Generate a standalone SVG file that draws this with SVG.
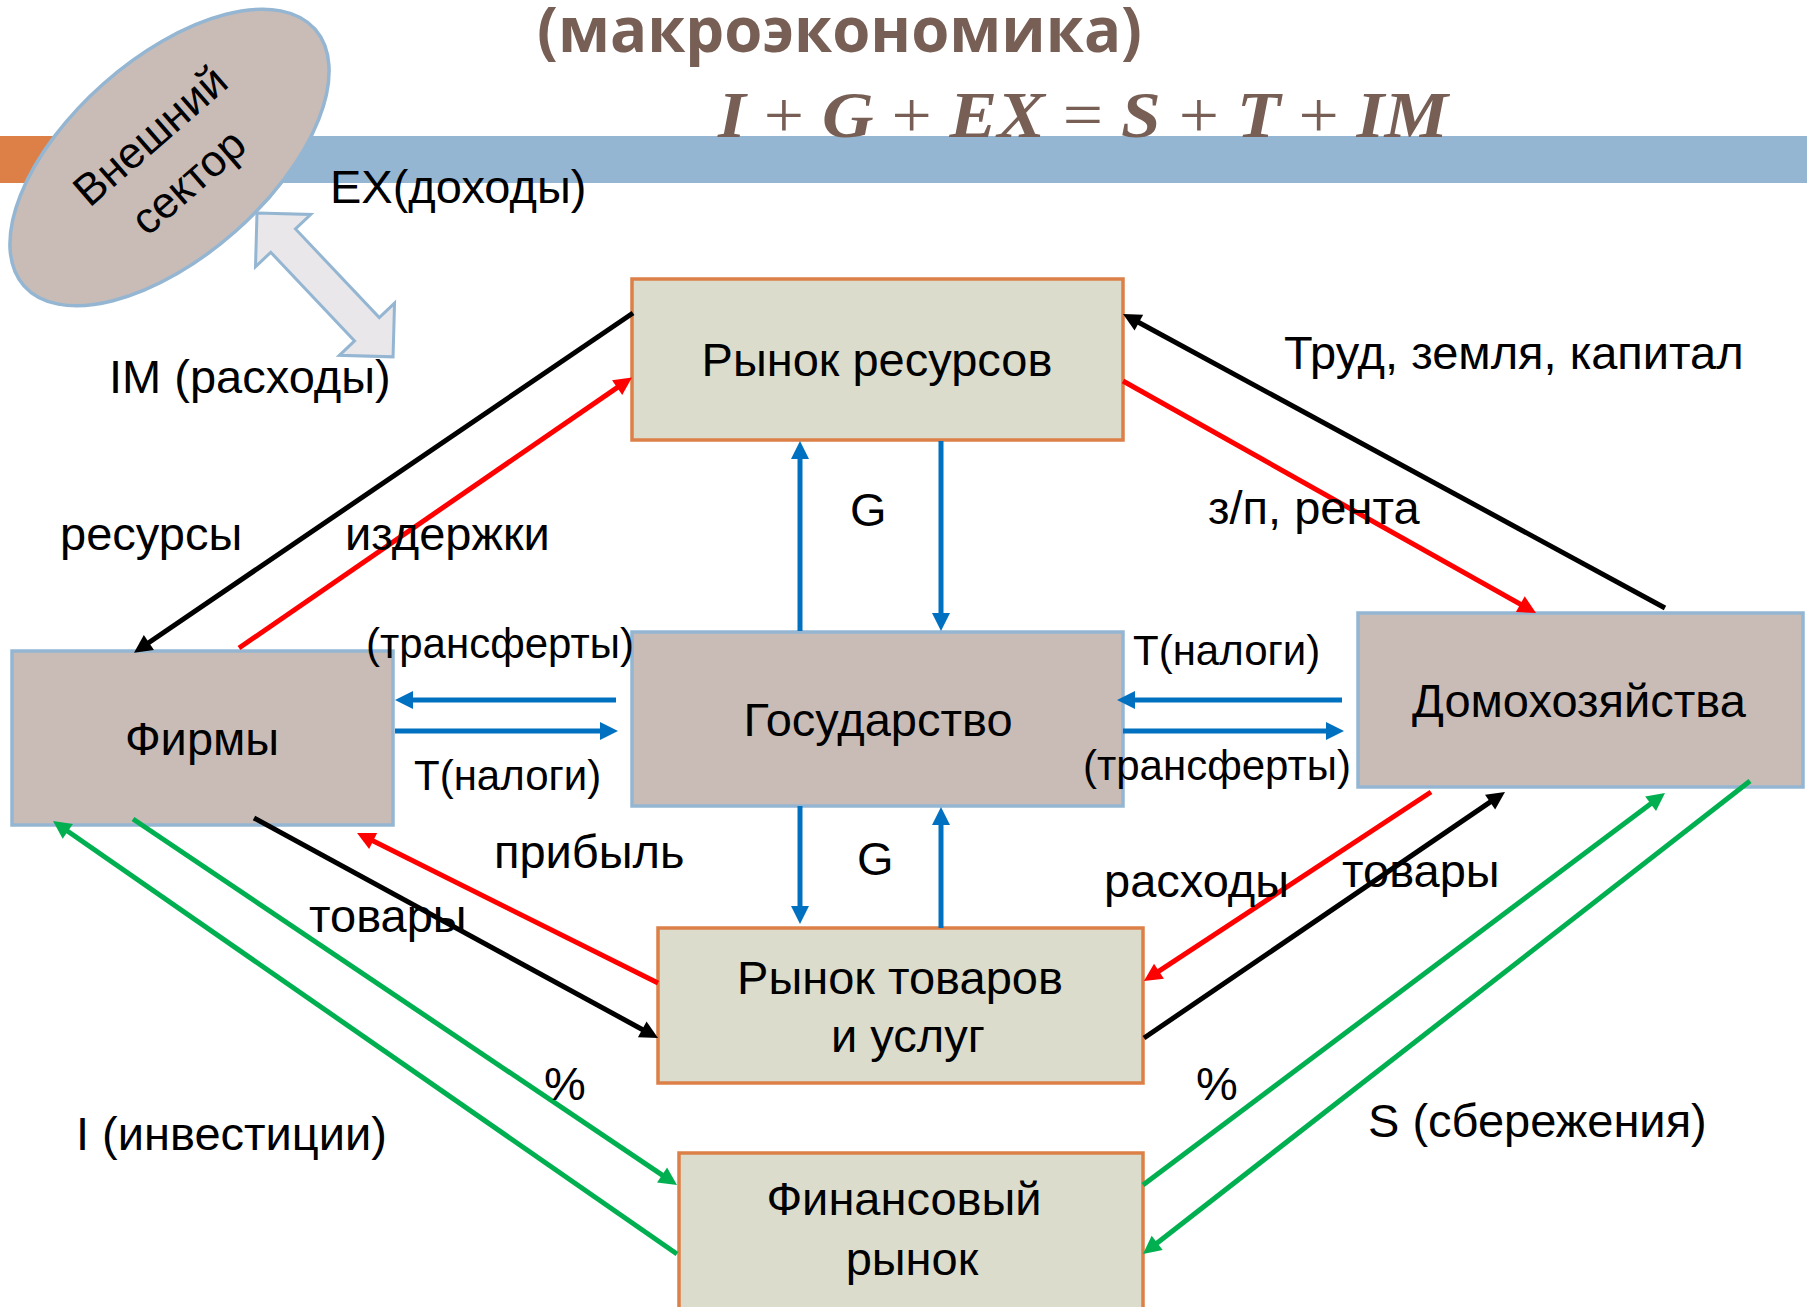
<svg xmlns="http://www.w3.org/2000/svg" width="1807" height="1307" viewBox="0 0 1807 1307">
  <style>
    .lbl { font-family: "Liberation Sans", Arial, sans-serif; font-size: 47px; fill: #000; }
    .sm { font-size: 42px; }
    .node-text { font-family: "Liberation Sans", Arial, sans-serif; font-size: 47px; fill: #000; text-anchor: middle; }
    .ext-text { font-size: 44px; }
    .market { fill: #dbdccc; stroke: #dd8047; stroke-width: 3.5; }
    .agent { fill: #c9bcb7; stroke: #94b6d2; stroke-width: 3.5; }
    .ln { fill: none; stroke-width: 5; }
    .k { stroke: #000; }
    .r { stroke: #ff0000; }
    .b { stroke: #0070c0; }
    .g { stroke: #00b050; }
  </style>
  <defs>
    <marker id="ak" markerWidth="3.6" markerHeight="3.6" refX="2.2" refY="1.8" orient="auto" markerUnits="strokeWidth" overflow="visible">
      <path d="M0,0 L3.6,1.8 L0,3.6 z" fill="#000"/>
    </marker>
    <marker id="ar" markerWidth="3.6" markerHeight="3.6" refX="2.2" refY="1.8" orient="auto" markerUnits="strokeWidth" overflow="visible">
      <path d="M0,0 L3.6,1.8 L0,3.6 z" fill="#ff0000"/>
    </marker>
    <marker id="ab" markerWidth="3.6" markerHeight="3.6" refX="2.2" refY="1.8" orient="auto" markerUnits="strokeWidth" overflow="visible">
      <path d="M0,0 L3.6,1.8 L0,3.6 z" fill="#0070c0"/>
    </marker>
    <marker id="ag" markerWidth="3.6" markerHeight="3.6" refX="2.2" refY="1.8" orient="auto" markerUnits="strokeWidth" overflow="visible">
      <path d="M0,0 L3.6,1.8 L0,3.6 z" fill="#00b050"/>
    </marker>
  </defs>

  <!-- header band -->
  <rect x="0" y="136" width="110" height="47" fill="#dd8047"/>
  <rect x="110" y="136" width="1697" height="47" fill="#94b6d2"/>

  <text x="537" y="52" textLength="605" lengthAdjust="spacingAndGlyphs" font-family="'Open Sans', 'Liberation Sans', sans-serif" font-weight="bold" font-size="62" fill="#775f55">(макроэкономика)</text>
  <text x="718" y="137" textLength="730" lengthAdjust="spacingAndGlyphs" font-family="'Liberation Serif', serif" font-size="66" fill="#775f55"><tspan font-weight="bold" font-style="italic">I</tspan> + <tspan font-weight="bold" font-style="italic">G</tspan> + <tspan font-weight="bold" font-style="italic">EX</tspan> = <tspan font-weight="bold" font-style="italic">S</tspan> + <tspan font-weight="bold" font-style="italic">T</tspan> + <tspan font-weight="bold" font-style="italic">IM</tspan></text>

  <!-- external sector -->
  <g id="n-external">
    <ellipse cx="169.5" cy="157.5" rx="194" ry="99" transform="rotate(-41.4 169.5 157.5)" class="agent"/>
    <text class="node-text ext-text" transform="translate(160 147) rotate(-41)">Внешний</text>
    <text class="node-text ext-text" transform="translate(198 193) rotate(-41)">сектор</text>
  </g>

  <!-- nodes -->
  <g id="n-resource-market">
    <rect x="632" y="279" width="491" height="161" class="market"/>
    <text class="node-text" x="877" y="376">Рынок ресурсов</text>
  </g>
  <g id="n-government">
    <rect x="632" y="632" width="491" height="174" class="agent"/>
    <text class="node-text" x="878" y="736">Государство</text>
  </g>
  <g id="n-firms">
    <rect x="12" y="651" width="381" height="174" class="agent"/>
    <text class="node-text" x="202" y="755">Фирмы</text>
  </g>
  <g id="n-households">
    <rect x="1358" y="613" width="445" height="174" class="agent"/>
    <text class="node-text" x="1579" y="717">Домохозяйства</text>
  </g>
  <g id="n-goods-market">
    <rect x="658" y="928" width="485" height="155" class="market"/>
    <text class="node-text" x="900" y="994">Рынок товаров</text>
    <text class="node-text" x="908" y="1052">и услуг</text>
  </g>
  <g id="n-financial-market">
    <rect x="679" y="1153" width="464" height="170" class="market"/>
    <text class="node-text" x="904" y="1215">Финансовый</text>
    <text class="node-text" x="912" y="1275">рынок</text>
  </g>

  <!-- connectors -->
  <g id="connectors">
    <polygon points="0,0 38,-38 38,-17 160,-17 160,-38 198,0 160,38 160,17 38,17 38,38" transform="translate(257 213) rotate(46.6)" fill="#e9e7e9" stroke="#94b6d2" stroke-width="3"/>

    <line class="ln k" x1="633" y1="313" x2="139.8" y2="648.7" marker-end="url(#ak)"/>
    <line class="ln r" x1="239" y1="648" x2="626.2" y2="381.4" marker-end="url(#ar)"/>
    <line class="ln b" x1="800" y1="631" x2="800" y2="448" marker-end="url(#ab)"/>
    <line class="ln b" x1="941" y1="441" x2="941" y2="624" marker-end="url(#ab)"/>
    <line class="ln k" x1="1665" y1="608" x2="1129.2" y2="317.3" marker-end="url(#ak)"/>
    <line class="ln r" x1="1123" y1="381" x2="1529.9" y2="609.6" marker-end="url(#ar)"/>

    <line class="ln b" x1="616" y1="700" x2="402" y2="700" marker-end="url(#ab)"/>
    <line class="ln b" x1="395" y1="731" x2="611" y2="731" marker-end="url(#ab)"/>
    <line class="ln b" x1="1342" y1="700" x2="1124" y2="700" marker-end="url(#ab)"/>
    <line class="ln b" x1="1123" y1="731" x2="1337" y2="731" marker-end="url(#ab)"/>

    <line class="ln b" x1="800" y1="806" x2="800" y2="917" marker-end="url(#ab)"/>
    <line class="ln b" x1="941" y1="928" x2="941" y2="814" marker-end="url(#ab)"/>

    <line class="ln k" x1="254" y1="818" x2="651.9" y2="1034.7" marker-end="url(#ak)"/>
    <line class="ln r" x1="658" y1="983" x2="363.3" y2="836.1" marker-end="url(#ar)"/>
    <line class="ln r" x1="1431" y1="792" x2="1149.8" y2="977.2" marker-end="url(#ar)"/>
    <line class="ln k" x1="1144" y1="1038" x2="1499.2" y2="795.9" marker-end="url(#ak)"/>

    <line class="ln g" x1="133" y1="819" x2="671.2" y2="1181.1" marker-end="url(#ag)"/>
    <line class="ln g" x1="677" y1="1254" x2="58.75" y2="825" marker-end="url(#ag)"/>
    <line class="ln g" x1="1143" y1="1185" x2="1659.4" y2="797.2" marker-end="url(#ag)"/>
    <line class="ln g" x1="1750" y1="781" x2="1148.5" y2="1249.7" marker-end="url(#ag)"/>
  </g>

  <!-- flow labels -->
  <g id="labels">
    <text class="lbl" x="330" y="203">EX(доходы)</text>
    <text class="lbl" x="109" y="393">IM (расходы)</text>
    <text class="lbl" x="60" y="550">ресурсы</text>
    <text class="lbl" x="345" y="550">издержки</text>
    <text class="lbl" x="850" y="526">G</text>
    <text class="lbl" x="1208" y="524">з/п, рента</text>
    <text class="lbl" x="1284" y="369">Труд, земля, капитал</text>
    <text class="lbl sm" x="366" y="658">(трансферты)</text>
    <text class="lbl sm" x="414" y="790">T(налоги)</text>
    <text class="lbl sm" x="1133" y="665">T(налоги)</text>
    <text class="lbl sm" x="1083" y="780">(трансферты)</text>
    <text class="lbl" x="494" y="868">прибыль</text>
    <text class="lbl" x="857" y="875">G</text>
    <text class="lbl" x="309" y="932">товары</text>
    <text class="lbl" x="1104" y="897">расходы</text>
    <text class="lbl" x="1342" y="887">товары</text>
    <text class="lbl" x="544" y="1100">%</text>
    <text class="lbl" x="1196" y="1100">%</text>
    <text class="lbl" x="76" y="1150">I (инвестиции)</text>
    <text class="lbl" x="1368" y="1137">S (сбережения)</text>
  </g>
</svg>
